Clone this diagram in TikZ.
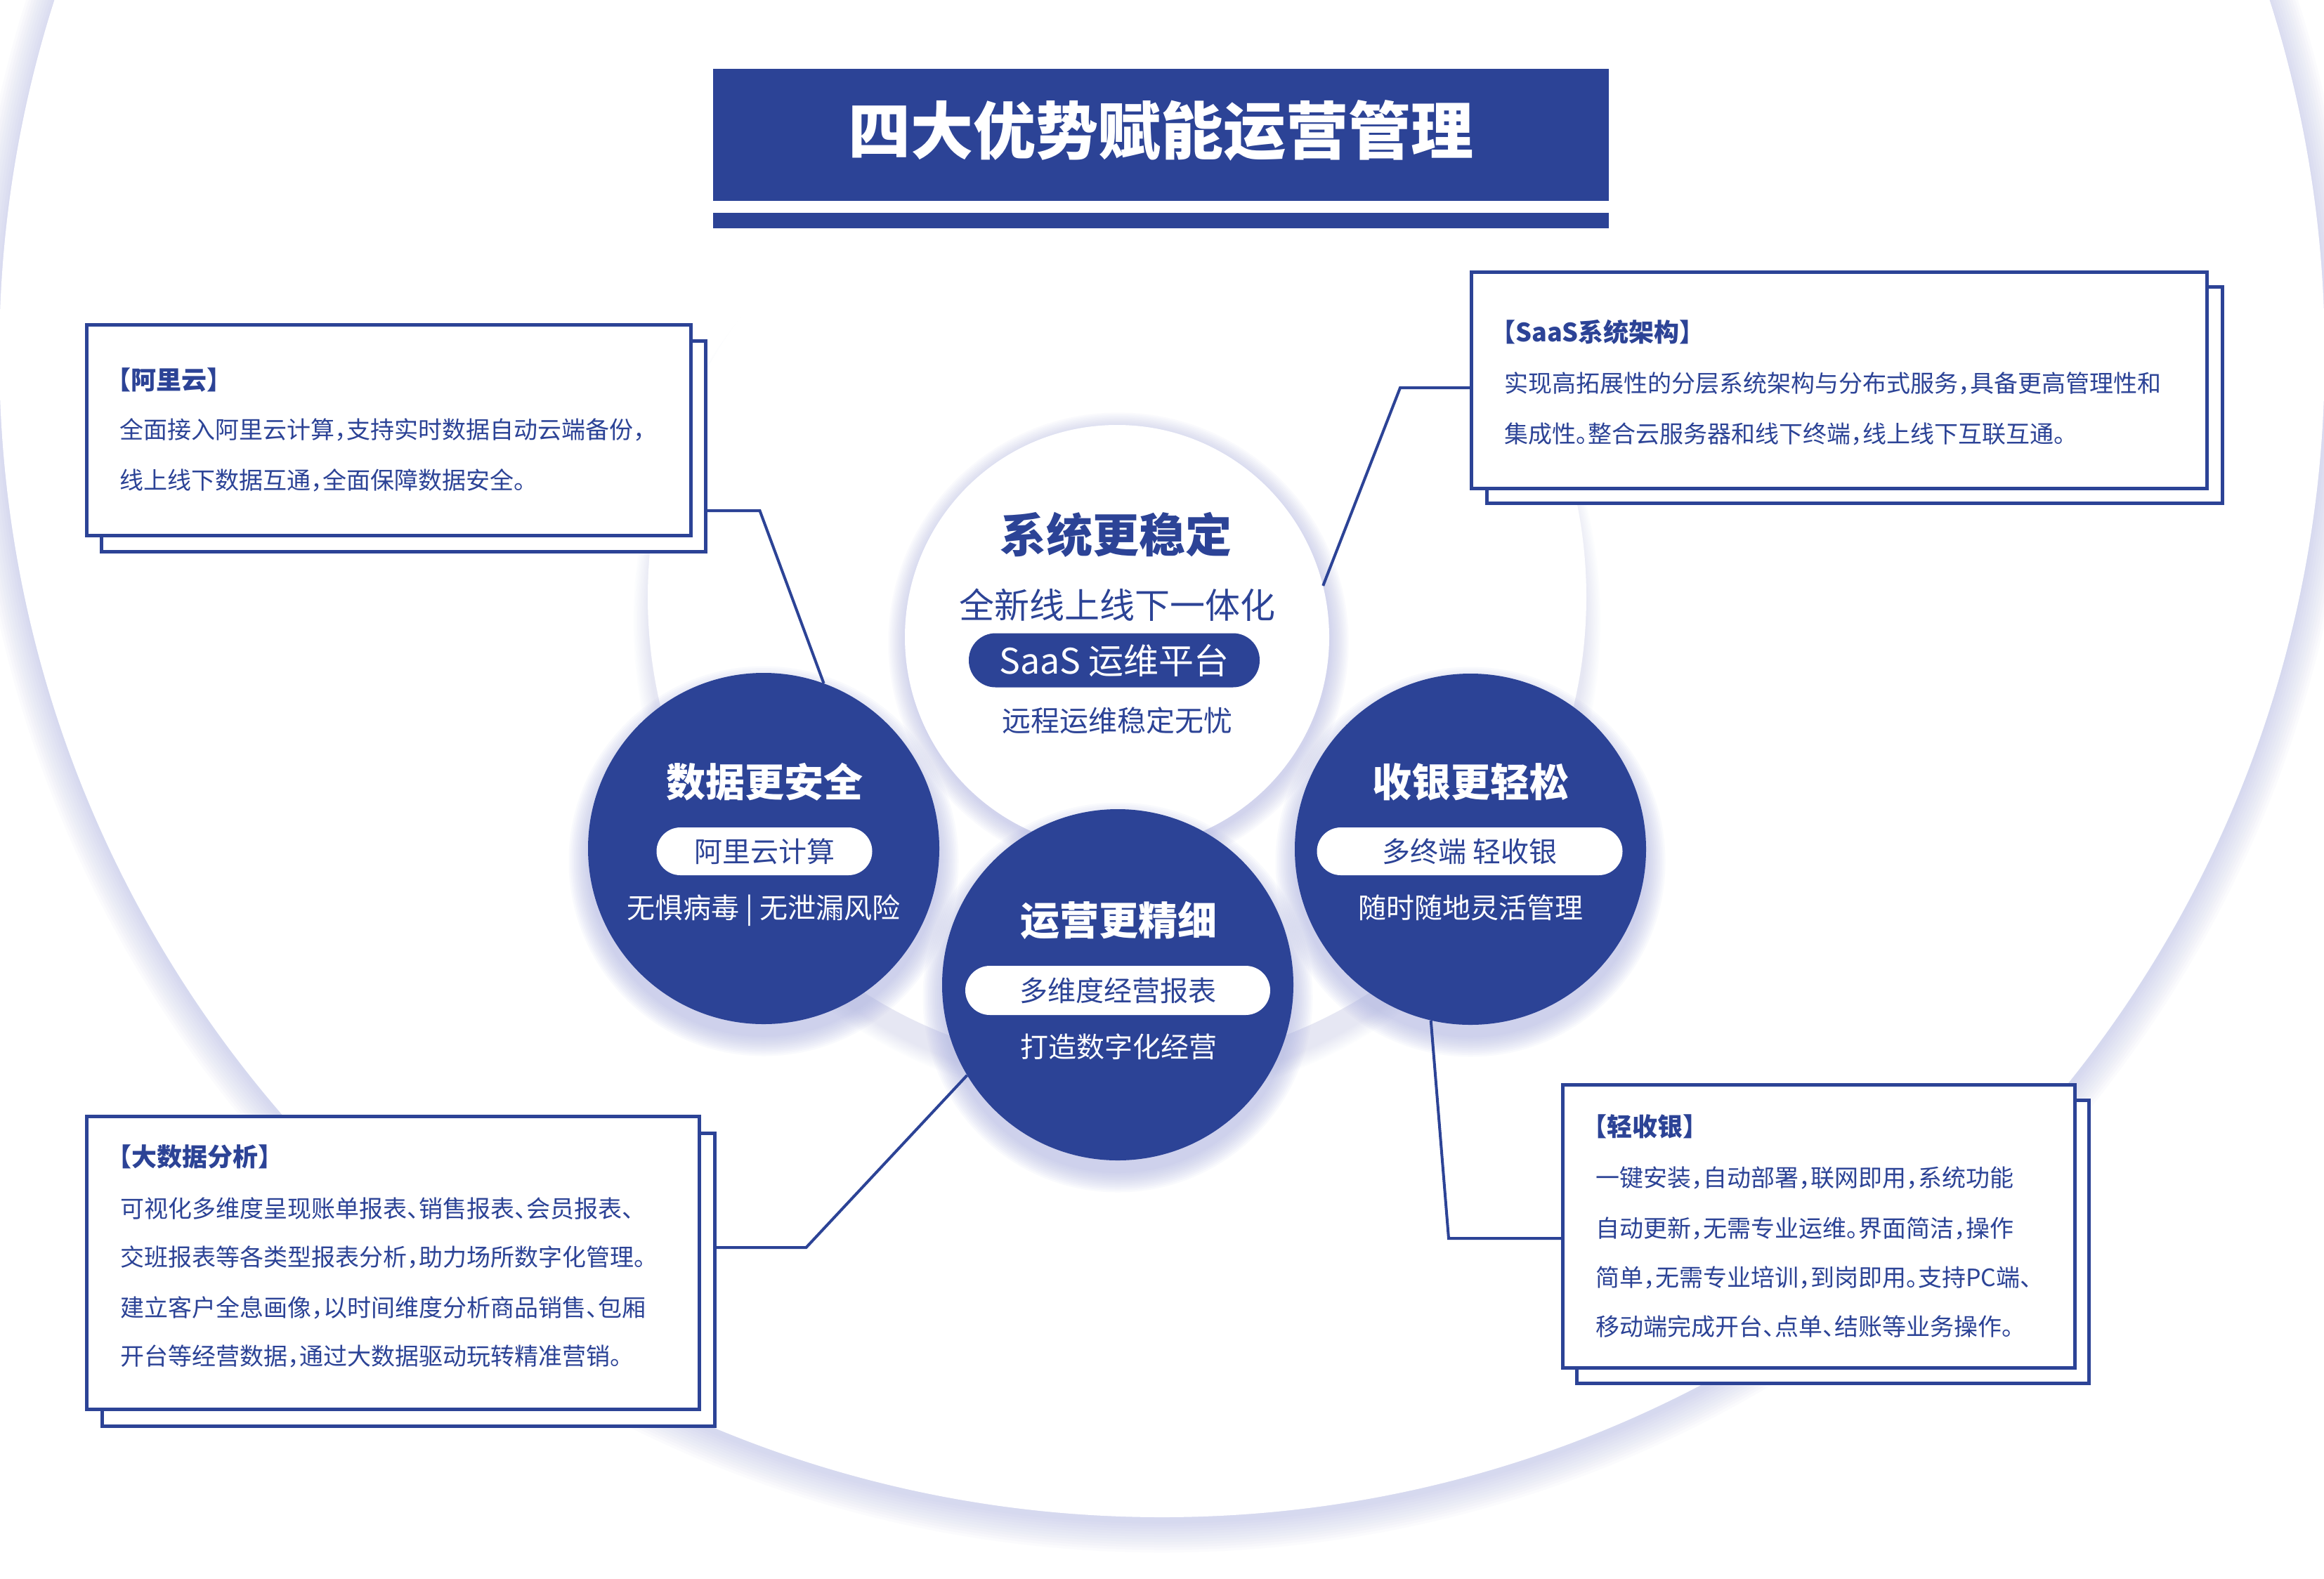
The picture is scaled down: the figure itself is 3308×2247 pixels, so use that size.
\documentclass[tikz,border=0pt]{standalone}
\usepackage{fontspec}
\setmainfont{Noto Sans CJK SC}[RawFeature=+halt]
\definecolor{brand}{RGB}{44,67,150}
\definecolor{lav}{RGB}{168,174,224}
\newcommand\myfs[1]{\fontsize{#1}{#1}\selectfont}
\newcommand\mysoftshadow[5]{%
  \foreach \k in {1,...,12}{\fill[lav, opacity=#5] (#1,#2) circle[radius={#3+#4*(12-\k)/12}];}}
\begin{document}
\begin{tikzpicture}[x=1pt,y=-1pt,
  box/.style={draw=brand, line width=4.5pt, fill=white, rectangle, inner sep=0, anchor=north west},
  conn/.style={draw=brand, line width=4pt, line join=miter},
  disc/.style={circle, inner sep=0, minimum size=500pt, fill=brand},
  pillb/.style={rectangle, inner sep=0, fill=white, text=brand, font={\myfs{40}}, text height=33pt, text depth=3pt, minimum height=68pt},
  bt/.style={inner sep=0, anchor=base west, text=brand, font={\myfs{34}}},
  hd/.style={inner sep=0, anchor=base west, text=brand, font={\myfs{36}\bfseries}},
  ct/.style={inner sep=0, anchor=base},
]
\useasboundingbox[fill=white] (0,0) rectangle (3308,2247);
% outer background circle
\mysoftshadow{1654}{514}{1655}{45}{0.045}
\node[circle, fill=white, inner sep=0, minimum size=3310pt] (bgc) at (1654,505) {};
% inner soft circle
\mysoftshadow{1590}{884}{668}{22}{0.025}
\node[circle, fill=white, inner sep=0, minimum size=1336pt] (inner) at (1590,850) {};
% title
\node[fill=brand, inner sep=0, anchor=north west, minimum width=1275pt, minimum height=188pt,
      text=white, font={\myfs{89}\bfseries}, text height=75pt, text depth=21pt] (title) at (1015,98) {四大优势赋能运营管理};
\node[fill=brand, inner sep=0, anchor=north west, minimum width=1275pt, minimum height=22pt] (titlebar) at (1015,303) {};
% box 1
\node[box, minimum width=860pt, minimum height=300pt] (b1s) at (142,483) {};
\node[box, minimum width=860pt, minimum height=300pt] (b1) at (121,460) {};
\node[hd] (b1h) at (168,554) {【阿里云】};
\node[bt] (b1a) at (170,624) {全面接入阿里云计算，支持实时数据自动云端备份，};
\node[bt] (b1b) at (170,696) {线上线下数据互通，全面保障数据安全。};
% box 2
\node[box, minimum width=1047pt, minimum height=308pt] (b2s) at (2114,406) {};
\node[box, minimum width=1047pt, minimum height=308pt] (b2) at (2092,385) {};
\node[hd] (b2h) at (2139,486) {【SaaS系统架构】};
\node[bt] (b2a) at (2141,558) {实现高拓展性的分层系统架构与分布式服务，具备更高管理性和};
\node[bt] (b2b) at (2141,630) {集成性。整合云服务器和线下终端，线上线下互联互通。};
% box 3
\node[box, minimum width=872pt, minimum height=417pt] (b3s) at (143,1611) {};
\node[box, minimum width=872pt, minimum height=417pt] (b3) at (121,1587) {};
\node[hd] (b3h) at (169,1660) {【大数据分析】};
\node[bt] (b3a) at (171,1733) {可视化多维度呈现账单报表、销售报表、会员报表、};
\node[bt] (b3b) at (171,1802) {交班报表等各类型报表分析，助力场所数字化管理。};
\node[bt] (b3c) at (171,1874) {建立客户全息画像，以时间维度分析商品销售、包厢};
\node[bt] (b3d) at (171,1943) {开台等经营数据，通过大数据驱动玩转精准营销。};
% box 4
\node[box, minimum width=729pt, minimum height=403pt] (b4s) at (2242,1564) {};
\node[box, minimum width=729pt, minimum height=403pt] (b4) at (2222,1542) {};
\node[hd] (b4h) at (2269,1617) {【轻收银】};
\node[bt] (b4a) at (2271,1689) {一键安装，自动部署，联网即用，系统功能};
\node[bt] (b4b) at (2271,1761) {自动更新，无需专业运维。界面简洁，操作};
\node[bt] (b4c) at (2271,1831) {简单，无需专业培训，到岗即用。支持PC端、};
\node[bt] (b4d) at (2271,1901) {移动端完成开台、点单、结账等业务操作。};
% circle 0
\mysoftshadow{1592}{915}{302}{28}{0.05}
\node[circle, fill=white, inner sep=0, minimum size=604pt] (c0) at (1590,907) {};
\node[ct, text=brand, font={\myfs{66}\bfseries}] (c0t) at (1588,786) {系统更稳定};
\node[ct, text=brand, font={\myfs{50}}] (c0a) at (1590,880) {全新线上线下一体化};
\node[rectangle, fill=brand, text=white, inner sep=0, rounded corners=38pt, minimum width=414pt, minimum height=77pt,
      font={\myfs{50}}, text height=42pt, text depth=4pt] (p0) at (1586,940) {SaaS 运维平台};
\node[ct, text=brand, font={\myfs{41}}] (c0b) at (1590,1041) {远程运维稳定无忧};
% circle 1
\mysoftshadow{1087}{1226}{250}{30}{0.06}
\node[disc] (c1) at (1087,1208) {};
\node[ct, text=white, font={\myfs{56}\bfseries}] (c1t) at (1088,1134) {数据更安全};
\node[pillb, rounded corners=34pt, minimum width=307pt] (p1) at (1088,1212) {阿里云计算};
\node[ct, text=white, font={\myfs{40}}] (c1b) at (1087,1307) {无惧病毒\hspace{9pt}|\hspace{9pt}无泄漏风险};
% circle 2
\mysoftshadow{2093}{1227}{250}{30}{0.06}
\node[disc] (c2) at (2093,1209) {};
\node[ct, text=white, font={\myfs{56}\bfseries}] (c2t) at (2093,1134) {收银更轻松};
\node[pillb, rounded corners=34pt, minimum width=435pt] (p2) at (2092,1212) {多终端 轻收银};
\node[ct, text=white, font={\myfs{40}}] (c2b) at (2093,1307) {随时随地灵活管理};
% circle 3
\mysoftshadow{1591}{1420}{250}{30}{0.06}
\node[disc] (c3) at (1591,1402) {};
\node[ct, text=white, font={\myfs{56}\bfseries}] (c3t) at (1592,1331) {运营更精细};
\node[pillb, rounded corners=35pt, minimum width=434pt, minimum height=70pt] (p3) at (1591,1410) {多维度经营报表};
\node[ct, text=white, font={\myfs{40}}] (c3b) at (1592,1505) {打造数字化经营};
% connectors
\coordinate (k4) at (2062,1763);
\draw[conn] ([yshift=-244pt]b1s.north east) -- ++(75,0) -- (c1.70);
\draw[conn] ([yshift=-167pt]b2.north west) -- ++(-99,0) -- (c0.14);
\draw[conn] ([yshift=-165pt]b3s.north east) -- ++(128,0) -- (c3.211);
\draw[conn] (c2.257) -- (k4) -- (k4 -| b4.west);
\end{tikzpicture}
\end{document}
